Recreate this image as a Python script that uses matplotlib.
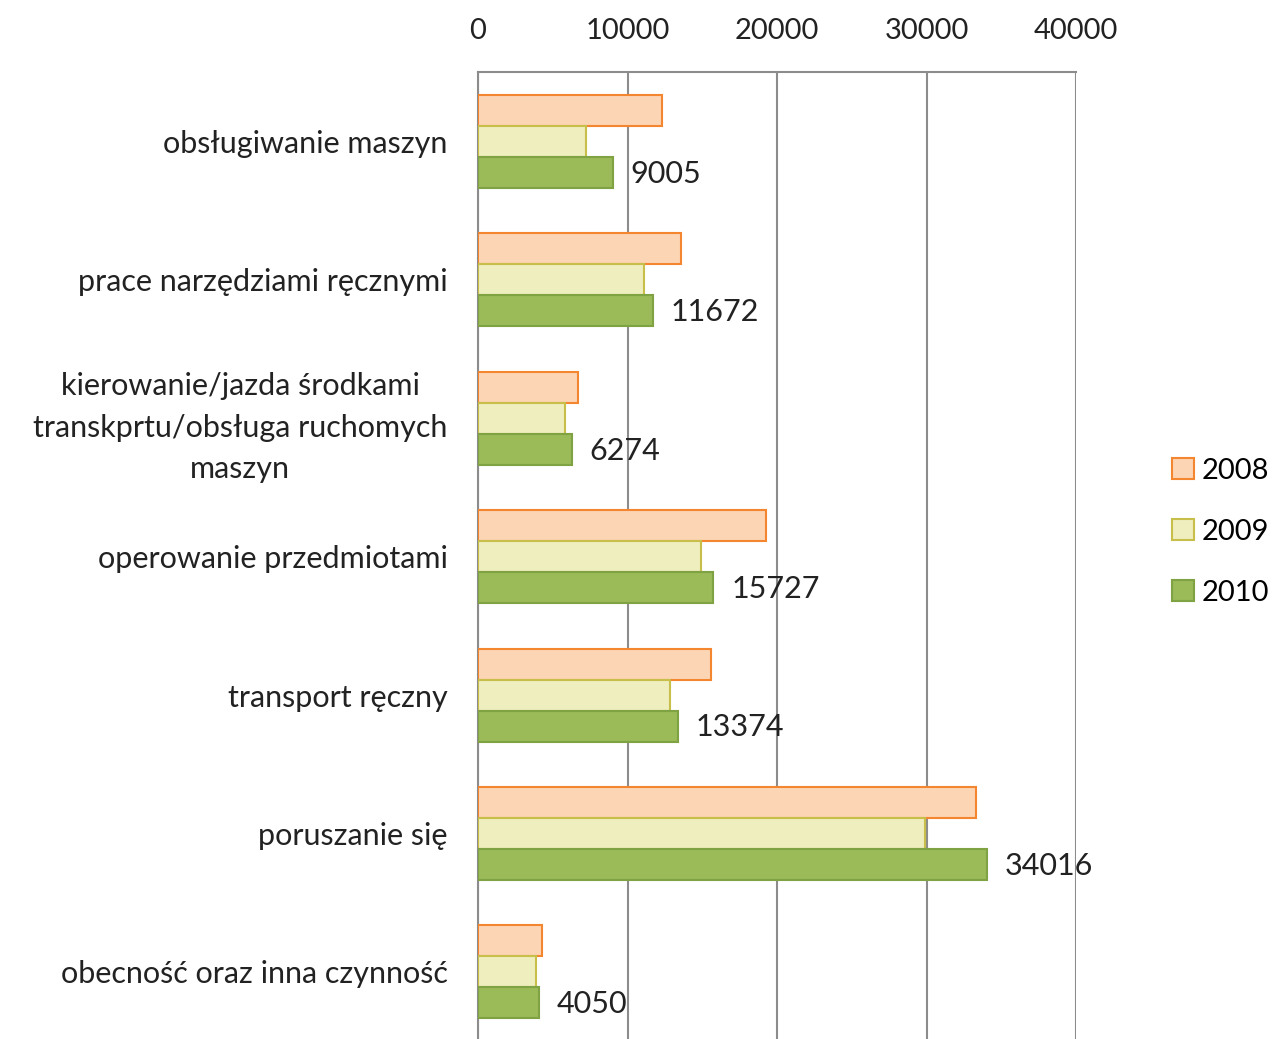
import matplotlib.pyplot as plt
import numpy as np

plt.rcParams['font.family'] = ['Lato', 'DejaVu Sans']

kategorie = ['obsługiwanie maszyn',
             'prace narzędziami ręcznymi',
             'kierowanie/jazda środkami\ntranskprtu/obsługa ruchomych\nmaszyn',
             'operowanie przedmiotami',
             'transport ręczny',
             'poruszanie się',
             'obecność oraz inna czynność']
lata = ['2008', '2009', '2010']
w2008 = [12300, 13600, 6700, 19250, 15600, 33300, 4300]
w2009 = [7200, 11100, 5800, 14900, 12850, 29900, 3900]
w2010 = [9005, 11672, 6274, 15727, 13374, 34016, 4050]

wypelnienie = ['#FCD5B5', '#EEEEBF', '#9BBB59']
obrys = ['#F3862E', '#C8BE4A', '#7FA243']

fig = plt.figure(figsize=(12.74, 10.39), dpi=100)
ax = fig.add_axes([0.3752, -0.002, 0.4694, 0.9325])

y = np.arange(len(kategorie))
h = 0.224
serie = [w2008, w2009, w2010]
for i, dane in enumerate(serie):
    ax.barh(y + (i - 1) * h, dane, height=h, color=wypelnienie[i],
            edgecolor=obrys[i], linewidth=1.5, label=lata[i], zorder=3)

# etykiety tylko dla 2010
for yi, v in zip(y, w2010):
    ax.text(v + 1200, yi + h + 0.01, str(v), va='center', ha='left',
            fontsize=22, color='#222222', zorder=4)

ax.set_xlim(0, 40000)
ax.set_ylim(len(kategorie) - 0.5, -0.5)
ax.set_xticks([0, 10000, 20000, 30000, 40000])
ax.xaxis.tick_top()
ax.tick_params(axis='x', length=0, pad=20, labelsize=21, labelcolor='#222222')
ax.tick_params(axis='y', length=0, pad=22, labelsize=22, labelcolor='#222222')
ax.set_yticks(y)
ax.set_yticklabels(kategorie, multialignment='center', linespacing=1.6)

ax.grid(axis='x', color='#8C8C8C', linewidth=1.5, zorder=0)
for s in ['right', 'bottom']:
    ax.spines[s].set_visible(False)
for s in ['left', 'top']:
    ax.spines[s].set_color('#8C8C8C')
    ax.spines[s].set_linewidth(1.5)

fig.legend(loc='center left', bbox_to_anchor=(0.92, 0.488), frameon=False,
           fontsize=21, handlelength=0.75, handleheight=0.75, handletextpad=0.25,
           labelspacing=1.2, borderpad=0, borderaxespad=0)

fig.savefig('out.png', dpi=100)
